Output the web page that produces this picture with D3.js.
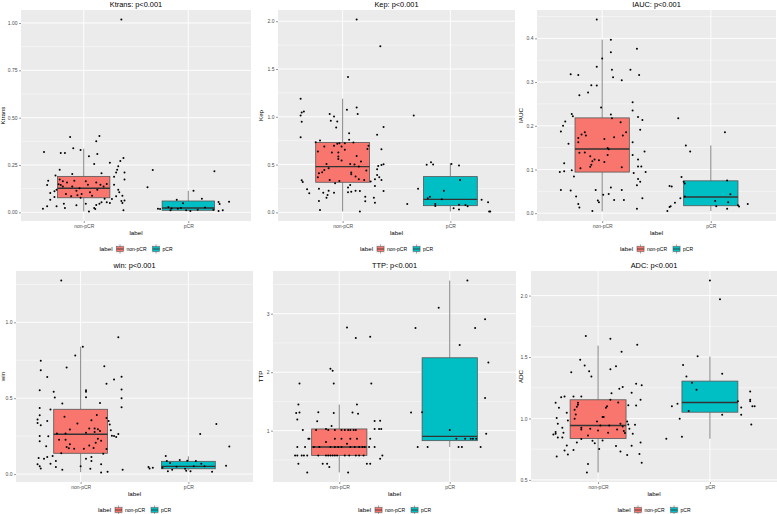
<!DOCTYPE html>
<html>
<head>
<meta charset="utf-8">
<script src="https://cdn.jsdelivr.net/npm/d3@7"></script>
<style>
  body { margin: 0; background: #fff; }
  svg { display: block; font-family: "Liberation Sans", Arial, sans-serif; }
</style>
</head>
<body>
<svg id="chart" width="777" height="514"></svg>
<script>
// groups and their fills
const categories = ["non-pCR", "pCR"];
const fills = ["#F8766D", "#00BFC4"];

// y tick values of each panel
const ktransTicks = [0, 0.25, 0.5, 0.75, 1.0];
const kepTicks = [0, 0.5, 1.0, 1.5, 2.0];
const iaucTicks = [0, 0.1, 0.2, 0.3, 0.4];
const winTicks = [0, 0.5, 1.0];
const ttpTicks = [1, 2, 3];
const adcTicks = [0.5, 1.0, 1.5, 2.0];

// box stats per group: [lower whisker, q1, median, q3, upper whisker]
const ktransBox = [[0.005, 0.077, 0.127, 0.190, 0.336], [0.007, 0.011, 0.023, 0.060, 0.114]];
const kepBox = [[0.010, 0.315, 0.479, 0.731, 1.189], [0.010, 0.070, 0.136, 0.374, 0.514]];
const iaucBox = [[0.004, 0.094, 0.147, 0.218, 0.397], [0.005, 0.017, 0.037, 0.074, 0.155]];
const winBox = [[0.013, 0.137, 0.262, 0.427, 0.839], [0.024, 0.035, 0.051, 0.084, 0.117]];
const ttpBox = [[0.286, 0.577, 0.720, 1.029, 1.446], [0.720, 0.829, 0.903, 2.246, 3.566]];
const adcBox = [[0.561, 0.837, 0.943, 1.152, 1.593], [0.835, 1.051, 1.130, 1.304, 1.504]];

// jittered points: [jitter in category units, value]
const ktransNon = [[0.36,1.018],[-0.13,0.398],[0.15,0.403],[-0.10,0.338],[-0.03,0.329],[-0.38,0.319],[-0.22,0.313],[-0.18,0.313],[0.12,0.375],[0.13,0.308],[0.05,0.296],[0.38,0.287],[0.10,0.255],[0.25,0.262],[0.33,0.243],[0.35,0.271],[-0.23,0.225],[-0.11,0.202],[0.17,0.206],[0.29,0.188],[0.31,0.211],[0.39,0.211],[0.32,0.225],[-0.27,0.194],[-0.34,0.167],[-0.35,0.144],[-0.32,0.102],[-0.28,0.111],[-0.28,0.081],[-0.26,0.120],[-0.24,0.148],[-0.23,0.173],[-0.20,0.164],[-0.22,0.144],[-0.20,0.137],[-0.16,0.158],[-0.17,0.097],[-0.12,0.085],[-0.11,0.137],[-0.09,0.167],[-0.07,0.114],[-0.04,0.127],[-0.02,0.097],[0.02,0.164],[0.04,0.146],[0.06,0.106],[0.08,0.088],[0.12,0.158],[0.13,0.120],[0.16,0.146],[0.19,0.137],[0.22,0.150],[0.20,0.072],[0.15,0.046],[0.17,0.053],[0.22,0.053],[0.12,0.039],[0.10,0.023],[0.11,0.018],[0.05,0.005],[0.02,0.046],[-0.07,0.037],[-0.19,0.046],[-0.18,0.023],[-0.26,0.032],[-0.35,0.032],[-0.39,0.019],[-0.32,0.067],[-0.03,0.077],[-0.06,0.090],[0.29,0.146],[0.31,0.085],[0.33,0.120],[0.34,0.106],[0.36,0.060],[0.37,0.088],[0.38,0.011],[0.39,0.063],[0.39,0.173],[0.37,0.049],[0.27,0.070],[0.25,0.049]];
const ktransPcr = [[-0.34,0.224],[-0.39,0.132],[0.25,0.217],[0.05,0.114],[-0.11,0.067],[0.13,0.072],[-0.05,0.048],[0.39,0.056],[0.30,0.044],[0.29,0.055],[-0.29,0.019],[-0.27,0.018],[-0.17,0.011],[-0.16,0.021],[-0.10,0.019],[-0.07,0.023],[-0.02,0.011],[0.02,0.007],[0.09,0.014],[0.16,0.026],[0.24,0.014],[0.29,0.007],[0.33,0.011],[-0.19,0.028]];

const kepNon = [[0.13,2.017],[0.35,1.738],[0.05,1.416],[-0.39,1.189],[-0.38,1.045],[-0.36,1.056],[-0.39,1.014],[-0.38,0.948],[-0.39,0.787],[0.04,1.073],[0.13,1.098],[0.14,1.028],[-0.12,1.028],[-0.08,1.003],[-0.05,0.951],[-0.11,0.958],[-0.06,0.888],[0.38,0.892],[0.06,0.829],[0.32,0.811],[0.06,0.759],[-0.21,0.752],[-0.25,0.734],[-0.17,0.689],[-0.08,0.696],[-0.05,0.717],[-0.03,0.724],[0.02,0.724],[0.02,0.654],[0.10,0.731],[-0.01,0.689],[0.24,0.696],[0.23,0.664],[0.36,0.661],[-0.04,0.626],[0.13,0.591],[-0.04,0.584],[-0.04,0.559],[-0.23,0.636],[-0.10,0.626],[-0.01,0.542],[0.17,0.531],[0.38,0.503],[0.36,0.496],[0.33,0.486],[-0.15,0.507],[-0.13,0.462],[-0.17,0.444],[-0.19,0.420],[-0.22,0.409],[-0.23,0.367],[0.11,0.500],[0.07,0.507],[0.15,0.479],[0.08,0.416],[0.08,0.399],[0.12,0.374],[0.15,0.346],[0.22,0.437],[0.32,0.451],[0.32,0.392],[0.30,0.346],[0.34,0.367],[0.36,0.339],[0.30,0.276],[0.20,0.339],[0.26,0.322],[-0.03,0.329],[-0.12,0.339],[-0.07,0.304],[-0.38,0.336],[-0.37,0.318],[-0.33,0.241],[-0.31,0.199],[-0.22,0.248],[-0.18,0.206],[-0.15,0.154],[-0.13,0.227],[-0.08,0.206],[-0.14,0.182],[-0.22,0.119],[-0.21,0.024],[0.05,0.210],[0.08,0.217],[0.12,0.227],[0.16,0.224],[0.21,0.164],[0.21,0.115],[0.29,0.154],[0.30,0.101],[0.38,0.224],[0.16,0.010],[0.07,0.287],[0.05,0.259]];
const kepPcr = [[-0.34,1.014],[-0.40,0.087],[-0.30,0.248],[-0.22,0.497],[-0.18,0.524],[-0.16,0.500],[0.01,0.507],[0.08,0.490],[0.09,0.339],[-0.06,0.227],[-0.19,0.164],[-0.21,0.147],[-0.08,0.136],[-0.14,0.087],[-0.14,0.066],[0.03,0.042],[0.08,0.031],[0.08,0.080],[0.14,0.077],[0.16,0.063],[0.29,0.133],[0.35,0.105],[0.36,0.010],[0.37,0.010]];

const iaucNon = [[-0.05,0.443],[0.08,0.397],[0.08,0.368],[0.32,0.376],[0.00,0.354],[-0.05,0.335],[0.09,0.328],[0.26,0.328],[-0.29,0.318],[-0.22,0.316],[0.34,0.316],[0.10,0.311],[0.18,0.304],[-0.10,0.293],[-0.05,0.292],[-0.13,0.276],[-0.21,0.270],[-0.01,0.242],[0.28,0.254],[0.28,0.235],[-0.28,0.227],[-0.27,0.222],[0.08,0.226],[0.09,0.217],[0.33,0.220],[0.37,0.213],[-0.34,0.210],[-0.36,0.200],[-0.38,0.187],[0.35,0.191],[0.17,0.208],[0.22,0.185],[-0.16,0.185],[-0.19,0.180],[-0.15,0.178],[-0.22,0.172],[-0.22,0.162],[0.02,0.170],[0.11,0.174],[0.19,0.178],[-0.31,0.159],[0.28,0.162],[0.05,0.149],[0.06,0.146],[-0.21,0.138],[-0.16,0.139],[0.39,0.141],[0.05,0.133],[0.28,0.133],[-0.11,0.130],[-0.07,0.123],[-0.03,0.121],[0.33,0.123],[0.02,0.117],[-0.09,0.119],[-0.10,0.111],[-0.11,0.106],[-0.20,0.103],[0.18,0.105],[-0.35,0.114],[0.33,0.107],[0.36,0.107],[-0.35,0.096],[-0.39,0.094],[-0.28,0.098],[0.40,0.094],[0.29,0.092],[-0.26,0.084],[0.33,0.078],[0.35,0.072],[0.32,0.064],[-0.06,0.053],[0.18,0.053],[-0.38,0.053],[-0.29,0.052],[-0.24,0.038],[0.01,0.042],[0.08,0.059],[0.06,0.044],[0.20,0.030],[0.11,0.030],[0.37,0.034],[-0.04,0.029],[-0.03,0.025],[-0.22,0.021],[-0.21,0.013],[0.32,0.010],[-0.09,0.005]];
const iaucPcr = [[-0.30,0.217],[-0.23,0.155],[-0.19,0.141],[0.13,0.185],[-0.27,0.083],[-0.25,0.072],[-0.24,0.068],[-0.38,0.062],[-0.36,0.061],[-0.24,0.038],[-0.28,0.034],[-0.33,0.024],[-0.37,0.016],[-0.38,0.014],[-0.40,0.005],[0.15,0.075],[0.18,0.043],[0.04,0.028],[0.05,0.016],[0.16,0.025],[0.15,0.010],[0.25,0.018],[0.26,0.015],[0.34,0.021]];

const winNon = [[-0.18,1.275],[0.35,0.901],[0.02,0.839],[-0.05,0.782],[-0.37,0.747],[-0.37,0.685],[-0.13,0.703],[0.22,0.711],[-0.31,0.639],[0.38,0.641],[0.31,0.623],[0.24,0.595],[-0.38,0.553],[0.05,0.553],[0.05,0.542],[0.38,0.557],[-0.25,0.542],[-0.24,0.504],[0.05,0.507],[0.38,0.500],[-0.17,0.465],[0.18,0.469],[-0.38,0.436],[0.38,0.441],[-0.28,0.425],[-0.38,0.388],[-0.15,0.377],[0.15,0.390],[0.24,0.370],[-0.40,0.359],[-0.40,0.337],[-0.31,0.350],[-0.37,0.322],[-0.10,0.293],[-0.03,0.333],[0.10,0.355],[0.08,0.300],[0.13,0.300],[0.16,0.295],[0.26,0.350],[0.27,0.326],[0.28,0.289],[-0.22,0.267],[-0.14,0.267],[0.05,0.273],[0.13,0.278],[0.18,0.284],[0.29,0.253],[0.31,0.251],[0.33,0.244],[0.35,0.264],[-0.38,0.251],[-0.30,0.249],[-0.20,0.227],[-0.38,0.216],[-0.14,0.227],[-0.10,0.196],[0.16,0.233],[0.14,0.207],[0.19,0.220],[-0.06,0.167],[0.03,0.167],[0.08,0.189],[-0.32,0.183],[-0.13,0.178],[-0.11,0.170],[0.12,0.172],[0.24,0.165],[-0.18,0.137],[0.21,0.134],[0.05,0.101],[0.10,0.112],[0.10,0.086],[-0.39,0.106],[-0.31,0.112],[-0.26,0.119],[-0.28,0.068],[-0.23,0.086],[-0.40,0.064],[-0.38,0.051],[-0.37,0.037],[-0.34,0.101],[-0.23,0.046],[0.00,0.051],[-0.17,0.029],[0.09,0.035],[0.19,0.064],[0.25,0.015],[0.19,0.011],[0.39,0.029]];
const winPcr = [[0.26,0.330],[0.11,0.264],[0.38,0.181],[-0.21,0.119],[-0.20,0.086],[-0.17,0.073],[-0.08,0.093],[-0.01,0.088],[0.07,0.086],[0.12,0.068],[-0.37,0.046],[-0.36,0.037],[-0.33,0.042],[-0.24,0.042],[-0.19,0.018],[-0.15,0.029],[-0.03,0.035],[-0.02,0.022],[0.02,0.018],[0.15,0.051],[0.22,0.015],[0.35,0.055],[-0.11,0.048],[0.05,0.051]];

const ttpNon = [[0.07,2.766],[0.15,2.583],[0.28,2.606],[-0.08,2.057],[-0.06,2.023],[-0.36,1.806],[-0.05,1.806],[0.29,1.806],[-0.37,1.446],[0.16,1.446],[-0.39,1.303],[-0.36,1.309],[-0.19,1.314],[-0.05,1.303],[0.12,1.309],[0.17,1.291],[-0.38,1.189],[-0.20,1.160],[0.32,1.166],[0.37,1.171],[-0.33,1.011],[-0.21,1.011],[-0.12,1.029],[-0.10,1.011],[-0.04,1.011],[0.02,1.011],[0.05,1.011],[0.08,1.011],[0.10,1.011],[0.13,1.011],[0.15,1.011],[-0.07,1.080],[0.32,1.029],[0.36,1.029],[0.38,1.029],[-0.28,0.863],[-0.27,0.863],[-0.04,0.863],[0.02,0.863],[0.10,0.863],[0.16,0.863],[0.28,0.863],[-0.12,0.806],[0.07,0.777],[-0.38,0.720],[-0.31,0.720],[-0.23,0.720],[-0.18,0.720],[-0.08,0.720],[-0.04,0.720],[-0.01,0.720],[0.02,0.720],[0.10,0.720],[0.14,0.720],[0.18,0.720],[0.21,0.720],[0.23,0.720],[0.27,0.720],[0.32,0.720],[-0.40,0.577],[-0.38,0.577],[-0.34,0.577],[-0.32,0.577],[-0.29,0.577],[-0.19,0.577],[-0.12,0.577],[-0.10,0.577],[-0.08,0.577],[-0.06,0.577],[-0.04,0.577],[-0.02,0.577],[0.05,0.577],[0.09,0.577],[0.15,0.577],[0.18,0.577],[0.22,0.577],[0.39,0.577],[-0.37,0.434],[-0.15,0.434],[-0.11,0.434],[0.25,0.434],[0.28,0.434],[-0.09,0.377],[0.37,0.520],[-0.29,0.286],[0.08,0.286]];
const ttpPcr = [[0.16,3.566],[-0.10,3.103],[0.32,2.903],[-0.31,2.754],[0.23,2.754],[0.09,2.463],[0.35,2.166],[0.32,1.560],[-0.35,1.309],[-0.25,1.314],[0.00,1.011],[0.33,0.949],[0.06,0.863],[0.14,0.863],[0.19,0.863],[0.21,0.863],[0.24,0.863],[-0.29,0.720],[-0.20,0.720],[0.08,0.720],[0.11,0.720],[0.28,0.720]];

const adcNon = [[-0.11,1.672],[0.11,1.648],[0.35,1.599],[0.21,1.542],[-0.16,1.477],[-0.12,1.431],[0.16,1.425],[-0.08,1.385],[-0.24,1.377],[0.11,1.401],[-0.06,1.341],[0.22,1.257],[0.34,1.282],[0.39,1.271],[0.19,1.241],[0.12,1.206],[0.30,1.209],[-0.30,1.179],[-0.22,1.179],[-0.15,1.179],[-0.38,1.127],[-0.33,1.173],[-0.35,1.087],[-0.18,1.127],[-0.18,1.111],[-0.19,1.095],[0.11,1.152],[0.08,1.100],[0.07,1.087],[0.04,1.011],[0.05,1.011],[0.18,1.130],[0.27,1.108],[0.34,1.106],[0.38,1.152],[-0.28,1.046],[-0.21,1.070],[-0.20,1.033],[-0.37,1.003],[-0.27,0.984],[-0.21,0.997],[-0.01,0.976],[-0.36,0.957],[-0.15,0.924],[-0.15,0.911],[-0.07,0.916],[0.02,0.943],[0.10,0.943],[0.20,0.957],[0.22,0.935],[0.26,0.976],[0.27,0.951],[0.28,0.916],[0.33,0.949],[-0.38,0.875],[-0.38,0.889],[-0.32,0.924],[-0.31,0.883],[-0.40,0.870],[-0.09,0.862],[0.09,0.883],[0.00,0.902],[0.17,0.911],[0.23,0.897],[0.24,0.881],[0.31,0.875],[-0.36,0.846],[-0.32,0.846],[-0.19,0.805],[-0.15,0.832],[-0.05,0.818],[0.04,0.821],[-0.03,0.799],[0.01,0.751],[0.16,0.775],[0.38,0.805],[0.30,0.778],[-0.28,0.780],[-0.22,0.743],[-0.30,0.740],[-0.27,0.707],[-0.37,0.691],[0.20,0.732],[0.26,0.702],[0.37,0.710],[0.39,0.640],[-0.09,0.629],[-0.10,0.561]];
const adcPcr = [[0.00,2.122],[0.09,1.970],[-0.11,1.507],[-0.24,1.436],[-0.21,1.341],[0.11,1.363],[-0.16,1.290],[-0.12,1.233],[0.36,1.220],[0.36,1.152],[0.36,1.141],[0.25,1.141],[-0.29,1.119],[-0.34,1.100],[-0.19,1.060],[0.38,1.100],[0.40,1.100],[0.28,1.089],[0.11,1.030],[0.28,1.030],[-0.27,0.997],[0.37,0.951],[-0.25,0.851],[-0.39,0.835]];

// panel layout: plot area [left, top, right, bottom] and left edge of the cell
const panels = [
  { title: "Ktrans: p<0.001", ylab: "Ktrans", ticks: ktransTicks, fmt: ".2f", box: ktransBox, pts: [ktransNon, ktransPcr], rect: [21, 10, 251, 221], cellX: 0 },
  { title: "Kep: p<0.001", ylab: "Kep", ticks: kepTicks, fmt: ".1f", box: kepBox, pts: [kepNon, kepPcr], rect: [278, 10, 515, 221], cellX: 258 },
  { title: "IAUC: p<0.001", ylab: "IAUC", ticks: iaucTicks, fmt: ".1f", box: iaucBox, pts: [iaucNon, iaucPcr], rect: [537, 10, 776, 221], cellX: 518 },
  { title: "win: p<0.001", ylab: "win", ticks: winTicks, fmt: ".1f", box: winBox, pts: [winNon, winPcr], rect: [16, 271, 253, 482], cellX: 0 },
  { title: "TTP: p<0.001", ylab: "TTP", ticks: ttpTicks, fmt: "d", box: ttpBox, pts: [ttpNon, ttpPcr], rect: [273, 271, 516, 482], cellX: 258 },
  { title: "ADC: p<0.001", ylab: "ADC", ticks: adcTicks, fmt: ".1f", box: adcBox, pts: [adcNon, adcPcr], rect: [531, 271, 777, 482], cellX: 518 }
];

const svg = d3.select("#chart");

panels.forEach(function(p) {
  const [l, t, r, b] = p.rect;
  const g = svg.append("g");

  // y domain from the data, expanded by 5% like ggplot
  const all = p.pts[0].concat(p.pts[1]).map(d => d[1]).concat(p.box[0], p.box[1]);
  const ext = d3.extent(all);
  const pad = (ext[1] - ext[0]) * 0.05;
  const y = d3.scaleLinear().domain([ext[0] - pad, ext[1] + pad]).range([b, t]);
  // discrete x positions 1 and 2, with 0.6 expansion on each side
  const x = d3.scaleLinear().domain([0.4, 2.6]).range([l, r]);

  g.append("rect").attr("x", l).attr("y", t).attr("width", r - l).attr("height", b - t).attr("fill", "#EBEBEB");

  // minor grid: half way between majors, one step past each end
  const step = p.ticks[1] - p.ticks[0];
  const minors = [p.ticks[0] - step / 2].concat(p.ticks.map(v => v + step / 2))
    .filter(v => v >= y.domain()[0] && v <= y.domain()[1]);
  g.selectAll(".minor").data(minors).join("line")
    .attr("x1", l).attr("x2", r).attr("y1", d => y(d)).attr("y2", d => y(d))
    .attr("stroke", "#fff").attr("stroke-width", 0.45);
  g.selectAll(".major").data(p.ticks).join("line")
    .attr("x1", l).attr("x2", r).attr("y1", d => y(d)).attr("y2", d => y(d))
    .attr("stroke", "#fff").attr("stroke-width", 0.9);
  g.selectAll(".vmajor").data(categories).join("line")
    .attr("x1", (d, i) => x(i + 1)).attr("x2", (d, i) => x(i + 1)).attr("y1", t).attr("y2", b)
    .attr("stroke", "#fff").attr("stroke-width", 0.9);

  // boxes
  p.box.forEach(function(s, i) {
    const cx = x(i + 1);
    const hw = x(1.25) - x(1);
    g.append("line").attr("x1", cx).attr("x2", cx).attr("y1", y(s[0])).attr("y2", y(s[1]))
      .attr("stroke", "#555").attr("stroke-width", 0.7);
    g.append("line").attr("x1", cx).attr("x2", cx).attr("y1", y(s[3])).attr("y2", y(s[4]))
      .attr("stroke", "#555").attr("stroke-width", 0.7);
    g.append("rect").attr("x", cx - hw).attr("y", y(s[3])).attr("width", hw * 2).attr("height", y(s[1]) - y(s[3]))
      .attr("fill", fills[i]).attr("stroke", "#555").attr("stroke-width", 0.8);
    g.append("line").attr("x1", cx - hw).attr("x2", cx + hw).attr("y1", y(s[2])).attr("y2", y(s[2]))
      .attr("stroke", "#333").attr("stroke-width", 1.4);
  });

  // jittered points
  p.pts.forEach(function(arr, i) {
    g.selectAll(null).data(arr).join("circle")
      .attr("cx", d => x(i + 1 + d[0])).attr("cy", d => y(d[1])).attr("r", 1)
      .attr("fill", "#000");
  });

  // axes
  const ya = g.append("g").attr("transform", `translate(${l},0)`)
    .call(d3.axisLeft(y).tickValues(p.ticks).tickFormat(d3.format(p.fmt)).tickSize(2).tickPadding(1.5));
  const xa = g.append("g").attr("transform", `translate(0,${b})`)
    .call(d3.axisBottom(x).tickValues([1, 2]).tickFormat((d, i) => categories[i]).tickSize(2).tickPadding(1.5));
  [ya, xa].forEach(function(a) {
    a.select(".domain").remove();
    a.selectAll(".tick line").attr("stroke", "#333").attr("stroke-width", 0.5);
    a.selectAll(".tick text").attr("fill", "#4D4D4D").style("font-size", "5px");
  });

  // titles
  const mx = (l + r) / 2;
  g.append("text").attr("x", mx).attr("y", t - 3).attr("text-anchor", "middle")
    .style("font-size", "7.4px").attr("fill", "#000").text(p.title);
  g.append("text").attr("x", mx).attr("y", b + 14).attr("text-anchor", "middle")
    .style("font-size", "6.2px").attr("fill", "#000").text("label");
  g.append("text").attr("transform", `translate(${p.cellX + 5},${(t + b) / 2}) rotate(-90)`)
    .attr("text-anchor", "middle").style("font-size", "6.2px").attr("fill", "#000").text(p.ylab);

  // legend at the bottom
  const lg = g.append("g");
  const ly = b + 28;
  let cur = 0;
  const lt = lg.append("text").attr("x", cur).attr("y", ly + 2).style("font-size", "6.2px").text("label");
  cur += lt.node().getComputedTextLength() + 3;
  categories.forEach(function(c, i) {
    lg.append("rect").attr("x", cur).attr("y", ly - 4.5).attr("width", 9).attr("height", 9).attr("fill", "#F2F2F2");
    lg.append("line").attr("x1", cur + 4.5).attr("x2", cur + 4.5).attr("y1", ly - 4.5).attr("y2", ly + 4.5)
      .attr("stroke", "#555").attr("stroke-width", 0.5);
    lg.append("rect").attr("x", cur + 1).attr("y", ly - 2.5).attr("width", 7).attr("height", 5)
      .attr("fill", fills[i]).attr("stroke", "#555").attr("stroke-width", 0.5);
    lg.append("line").attr("x1", cur + 1).attr("x2", cur + 8).attr("y1", ly).attr("y2", ly)
      .attr("stroke", "#333").attr("stroke-width", 0.8);
    cur += 11;
    const tx = lg.append("text").attr("x", cur).attr("y", ly + 1.8).style("font-size", "5px").attr("fill", "#000").text(c);
    cur += tx.node().getComputedTextLength() + 5;
  });
  lg.attr("transform", `translate(${mx - (cur - 5) / 2},0)`);
});
</script>
</body>
</html>
